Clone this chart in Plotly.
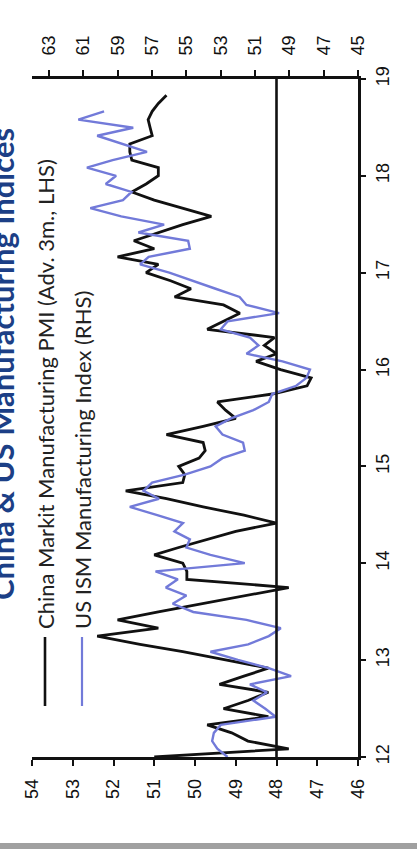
import pandas as pd
import plotly.graph_objects as go

# Monthly observations, Jan 2012 onward
china_pmi_adv3m = [
    51.0, 47.7, 48.7, 49.1, 49.7, 48.2, 49.3, 48.7, 48.2, 49.4, 48.8, 48.2,
    49.25, 50.3, 51.35, 52.4, 50.9, 51.9, 50.9, 49.8, 48.8, 47.7, 50.2, 50.2,
    50.3, 51.0, 50.4, 49.7, 49.0, 48.0, 48.8, 49.8, 50.7, 51.7, 50.3, 50.25,
    50.4, 49.9, 49.75, 49.8, 50.7, 49.8, 49.0, 49.25, 49.45, 48.1, 47.25, 47.15,
    47.9, 48.5, 48.0, 48.3, 48.05, 49.7, 49.3, 48.9, 49.3, 50.5, 50.1, 50.6,
    51.2, 50.9, 51.9, 51.0, 51.5, 50.9, 50.3, 49.6, 50.3, 51.0, 51.55, 51.2,
    50.9, 50.9, 51.55, 51.6, 51.6, 51.05, 51.1, 51.15, 51.05, 50.9, 50.7,
]
us_ism = [
    52.6, 53.2, 53.5, 53.4, 53.0, 49.8, 50.4, 51.1, 50.3, 51.3, 48.9, 50.2,
    52.0, 53.6, 51.4, 50.2, 49.5, 51.5, 54.6, 55.8, 55.0, 56.2, 55.5, 56.8,
    51.6, 53.6, 55.0, 54.8, 55.7, 55.2, 56.7, 58.3, 56.6, 57.5, 57.0, 55.1,
    53.6, 52.9, 51.6, 51.7, 52.9, 53.3, 52.4, 51.1, 50.2, 50.0, 48.6, 48.0,
    47.8, 49.4, 51.5, 50.8, 51.3, 53.0, 52.6, 49.6, 51.5, 51.9, 53.3, 54.6,
    56.0, 57.7, 57.2, 54.8, 54.9, 57.8, 56.3, 58.8, 60.6, 58.7, 58.2, 59.7,
    59.1, 60.8, 59.3, 57.3, 58.7, 60.2, 58.1, 61.3, 59.8,
]
china_dates = pd.date_range("2012-01-01", periods=len(china_pmi_adv3m), freq="MS")
us_dates = pd.date_range("2012-01-01", periods=len(us_ism), freq="MS")

lhs_ticks = [46, 47, 48, 49, 50, 51, 52, 53, 54]
rhs_ticks = [45, 47, 49, 51, 53, 55, 57, 59, 61, 63]
year_ticks = pd.date_range("2012-01-01", "2019-01-01", freq="YS")
year_labels = [f"{d.year % 100}" for d in year_ticks]

W, H = 417, 849


def px_x(p):
    return p / W


def px_y(p):
    return (H - p) / H


INK = "#111111"
BLUE = "#727ad9"
tick_font = dict(family="Liberation Sans, Arial, sans-serif", size=18, color=INK)
label_font = dict(family="Lato, Open Sans, sans-serif", size=22, color="#222222")

common_axis = dict(
    ticks="outside", tickwidth=2, tickcolor=INK, showline=True, linecolor=INK,
    linewidth=2.6, showgrid=False, zeroline=False, tickfont=tick_font,
    tickangle=-90, automargin=False,
)

fig = go.Figure()
fig.add_trace(go.Scatter(
    x=us_ism, y=us_dates, xaxis="x2", yaxis="y", mode="lines",
    line=dict(color=BLUE, width=2.4), name="US ISM Manufacturing Index (RHS)",
))
fig.add_trace(go.Scatter(
    x=china_pmi_adv3m, y=china_dates, xaxis="x", yaxis="y", mode="lines",
    line=dict(color=INK, width=2.8), name="China Markit Manufacturing PMI (Adv. 3m., LHS)",
))

fig.update_layout(
    template="none",
    width=W, height=H, margin=dict(l=0, r=0, t=0, b=0, pad=0),
    paper_bgcolor="white", plot_bgcolor="white", showlegend=False,
    xaxis=dict(
        domain=[px_x(32), px_x(358)], range=[54, 46], side="bottom", anchor="y",
        tickvals=lhs_ticks, ticktext=[str(v) for v in lhs_ticks],
        ticklen=6, ticklabelstandoff=6, **common_axis,
    ),
    xaxis2=dict(
        domain=[px_x(32), px_x(358)], range=[64, 45], side="top", overlaying="x",
        anchor="y", tickvals=rhs_ticks, ticktext=[str(v) for v in rhs_ticks],
        ticklen=6, ticklabelstandoff=11, **common_axis,
    ),
    yaxis=dict(
        domain=[px_y(757), px_y(79)], range=["2012-01-01", "2019-01-01"], type="date",
        side="right", anchor="x", tickvals=list(year_ticks), ticktext=year_labels,
        ticklen=5, ticklabelstandoff=2, **common_axis,
    ),
)

# 48 reference line on the LHS scale
fig.add_shape(type="line", xref="x", yref="y domain", x0=48, x1=48, y0=0, y1=1,
              line=dict(color=INK, width=2.6))

# legend samples and labels
fig.add_shape(type="line", xref="paper", yref="paper", x0=px_x(45), x1=px_x(45),
              y0=px_y(706), y1=px_y(637), line=dict(color=INK, width=2.6))
fig.add_shape(type="line", xref="paper", yref="paper", x0=px_x(82), x1=px_x(82),
              y0=px_y(706), y1=px_y(637), line=dict(color=BLUE, width=2.2))
fig.add_annotation(x=px_x(45), y=px_y(631), xref="paper", yref="paper",
                   text="China Markit Manufacturing PMI (Adv. 3m., LHS)", textangle=-90,
                   showarrow=False, xanchor="center", yanchor="bottom", font=label_font)
fig.add_annotation(x=px_x(82), y=px_y(631), xref="paper", yref="paper",
                   text="US ISM Manufacturing Index (RHS)", textangle=-90,
                   showarrow=False, xanchor="center", yanchor="bottom", font=label_font)

# title
fig.add_annotation(x=px_x(2), y=px_y(602), xref="paper", yref="paper",
                   text="<b>China & US Manufacturing Indices</b>", textangle=-90,
                   showarrow=False, xanchor="center", yanchor="bottom",
                   font=dict(family="Lato, Open Sans, sans-serif", size=31, color="#1c3f86"))

# bottom strip
fig.add_shape(type="rect", xref="paper", yref="paper", x0=0, x1=1, y0=0, y1=px_y(843),
              fillcolor="#a0a0a0", line=dict(width=0))

fig.write_html("out.html")
